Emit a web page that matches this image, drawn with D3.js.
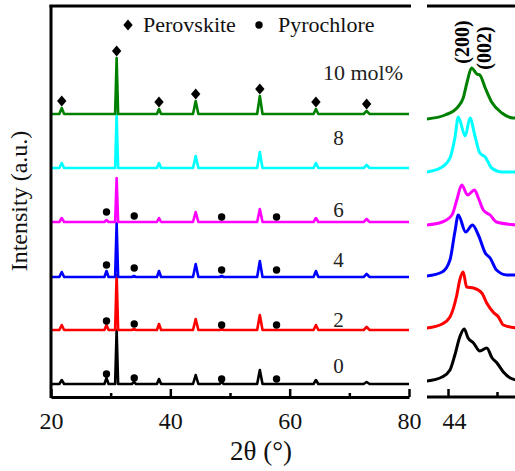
<!DOCTYPE html>
<html><head><meta charset="utf-8">
<script src="https://cdn.jsdelivr.net/npm/d3@7"></script>
<style>body{margin:0;background:#fff}svg text{font-family:"Liberation Serif","Times New Roman","DejaVu Serif",serif}</style>
</head><body><svg id="c" width="515" height="471"></svg>
<script>
// ---------- data ----------
const categories = ["0", "2", "4", "6", "8", "10 mol%"];
const seriesColors = ["#000000", "#ff0000", "#0000ff", "#ff00ff", "#00ffff", "#008000"];
const leftOffsets = [13, 67, 120, 175, 229, 283];
const rightOffsets = [16, 69, 121, 172, 225, 278];

const peakPos = [21.8, 29.3, 31.0, 33.9, 38.1, 44.25, 48.6, 55.0, 64.4, 72.9];
const peakHalfWidth = [0.4, 0.35, 0.25, 0.35, 0.35, 0.45, 0.35, 0.45, 0.4, 0.5];
const heights0 = [4, 6, 54, 2, 5, 9, 2, 14, 4, 2];
const heights2 = [5, 5, 55, 1, 6, 11, 1, 15, 5, 3];
const heights4 = [5, 6, 54, 1, 6, 13, 1, 16, 6, 3];
const heights6 = [4, 2, 44, 0, 4, 10, 0, 13, 4, 3];
const heights8 = [5, 0, 54, 0, 5, 12, 0, 16, 5, 3];
const heights10 = [6, 0, 56, 0, 5, 13, 0, 18, 5, 3];

const perovskitePos = [21.8, 31.0, 38.1, 44.25, 55.0, 64.4, 72.9];
const pyrochlorePos = [29.3, 33.95, 48.6, 57.8];
const pyro0 = [10, 6, 5, 5];
const pyro2 = [9, 6, 5, 5];
const pyro4 = [12, 9, 7, 7];
const pyro6 = [10, 6, 5, 5];

const zoom0 = [[43.57,0],[43.88,4],[44.04,11],[44.14,26],[44.24,44],[44.33,52],[44.41,43],[44.52,38],[44.65,30],[44.79,33],[44.90,23],[45.00,18],[45.13,9],[45.27,3],[45.40,1]];
const zoom2 = [[43.57,0],[43.88,4],[44.04,11],[44.18,33],[44.24,48],[44.31,56],[44.38,41],[44.52,40],[44.69,35],[44.79,25],[44.92,16],[45.03,11],[45.13,3],[45.40,0]];
const zoom4 = [[43.57,0],[43.88,4],[44.04,16],[44.14,44],[44.21,61],[44.36,44],[44.50,51],[44.62,41],[44.76,23],[44.86,18],[44.99,6],[45.20,1],[45.40,1]];
const zoom6 = [[43.57,0],[43.88,3],[44.08,10],[44.18,25],[44.28,40],[44.40,30],[44.54,35],[44.62,27],[44.72,15],[44.86,10],[44.99,3],[45.40,0]];
const zoom8 = [[43.57,0],[43.88,5],[44.04,14],[44.14,34],[44.21,55],[44.35,36],[44.45,54],[44.55,36],[44.65,19],[44.76,15],[44.89,4],[45.10,0],[45.40,0]];
const zoom10 = [[43.57,0],[43.94,4],[44.20,12],[44.31,21],[44.39,37],[44.48,51],[44.59,45],[44.65,44],[44.76,31],[44.89,17],[45.10,6],[45.33,1],[45.40,1]];

const xTicksMajor = [20, 40, 60, 80];
const xTicksMinor = [30, 50, 70];
const xrTicksMajor = [44];
const xrTicksMinor = [45];

// ---------- drawing ----------
const FONT = '"Liberation Serif", "Times New Roman", "DejaVu Serif", serif';
const svg = d3.select("#c");
const heights = [heights0, heights2, heights4, heights6, heights8, heights10];
const pyro = [pyro0, pyro2, pyro4, pyro6];
const zooms = [zoom0, zoom2, zoom4, zoom6, zoom8, zoom10];

const x = d3.scaleLinear().domain([20, 80]).range([51, 409]);
const xr = d3.scaleLinear().domain([44, 45]).range([448, 497]);
const y = d3.scaleLinear().domain([0, 391]).range([397, 6]);

const line = d3.line().x(d => d[0]).y(d => d[1]);

// left traces
heights.forEach((h, i) => {
  const off = leftOffsets[i];
  const pts = [[20, 0]];
  peakPos.forEach((p, k) => {
    if (h[k] > 0) {
      pts.push([p - peakHalfWidth[k], 0], [p, h[k]], [p + peakHalfWidth[k], 0]);
    }
  });
  pts.push([80, 0]);
  svg.append("path")
    .attr("d", line(pts.map(d => [x(d[0]), y(d[1] + off)])))
    .attr("fill", "none").attr("stroke", seriesColors[i])
    .attr("stroke-width", 2.6).attr("stroke-linejoin", "round");
});

// right traces
svg.append("clipPath").attr("id", "rc").append("rect").attr("x", 427).attr("y", 0).attr("width", 200).attr("height", 471);
zooms.forEach((z, i) => {
  svg.append("path")
    .attr("clip-path", "url(#rc)")
    .attr("d", d3.line().curve(d3.curveMonotoneX).x(d => xr(d[0])).y(d => y(d[1] + rightOffsets[i]))(z))
    .attr("fill", "none").attr("stroke", seriesColors[i])
    .attr("stroke-width", 3).attr("stroke-linejoin", "round");
});

// markers
const diamond = (cx, cy) => `M${cx},${cy - 5.5}L${cx + 4.7},${cy}L${cx},${cy + 5.5}L${cx - 4.7},${cy}Z`;
perovskitePos.forEach(p => {
  const k = peakPos.indexOf(p);
  svg.append("path").attr("d", diamond(x(p), y(heights10[k] + leftOffsets[5]) - 7)).attr("fill", "#000");
});
pyro.forEach((hs, i) => {
  pyrochlorePos.forEach((p, k) => {
    svg.append("circle").attr("cx", x(p)).attr("cy", y(hs[k] + leftOffsets[i])).attr("r", 3.7).attr("fill", "#000");
  });
});

// series labels
const labelDy = [11, 3, 10, 5, 23, 34];
categories.forEach((c, i) => {
  const last = i === categories.length - 1;
  svg.append("text")
    .attr("x", last ? 323 : x(68.2))
    .attr("y", y(leftOffsets[i]) - labelDy[i])
    .attr("text-anchor", last ? "start" : "middle")
    .attr("font-family", FONT)
    .attr("font-size", last ? 22 : 21)
    .attr("fill", "#222").text(c);
});

// legend
svg.append("path").attr("d", diamond(128, 25)).attr("fill", "#000");
svg.append("text").attr("x", 143).attr("y", 32).attr("font-family", FONT).attr("font-size", 22).attr("fill", "#111").text("Perovskite");
svg.append("circle").attr("cx", 259).attr("cy", 25).attr("r", 3.7).attr("fill", "#000");
svg.append("text").attr("x", 278).attr("y", 32).attr("font-family", FONT).attr("font-size", 22).attr("fill", "#111").text("Pyrochlore");

// peak index labels
[["(200)", 44.3, 42], ["(002)", 44.75, 48]].forEach(([t, p, cy]) => {
  svg.append("text")
    .attr("transform", `translate(${xr(p) + 6},${cy}) rotate(-90)`)
    .attr("text-anchor", "middle").attr("font-family", FONT).attr("font-size", 20).attr("font-weight", "bold")
    .attr("fill", "#000").text(t);
});

// frames
const frame = svg.append("g").attr("stroke", "#000").attr("stroke-width", 3).attr("fill", "none");
frame.append("line").attr("x1", x(20)).attr("x2", x(20)).attr("y1", 5).attr("y2", 398);
frame.append("line").attr("x1", x(20) - 1.5).attr("x2", 411).attr("y1", 6).attr("y2", 6);
frame.append("line").attr("x1", 427).attr("x2", 520).attr("y1", 6).attr("y2", 6);

// axes
function styleAxis(g) {
  g.attr("font-family", FONT);
  g.selectAll("path.domain").attr("stroke", "#000").attr("stroke-width", 3);
  g.selectAll("line").attr("stroke", "#000").attr("stroke-width", 2.5);
  g.selectAll("text").attr("font-size", 24).attr("fill", "#111").attr("font-family", FONT);
}
const axL = svg.append("g").attr("transform", "translate(0,397)")
  .call(d3.axisBottom(x).tickValues(xTicksMajor).tickSizeInner(-8).tickSizeOuter(0).tickPadding(15).tickFormat(d3.format("d")));
styleAxis(axL);
const axLm = svg.append("g").attr("transform", "translate(0,397)")
  .call(d3.axisBottom(x).tickValues(xTicksMinor).tickSizeInner(-4).tickSizeOuter(0).tickFormat(""));
styleAxis(axLm); axLm.select("path.domain").remove();

const axR = svg.append("g").attr("transform", "translate(0,397)")
  .call(d3.axisBottom(xr).tickValues(xrTicksMajor).tickSizeInner(-8).tickSizeOuter(0).tickPadding(15).tickFormat(d3.format("d")));
styleAxis(axR);
axR.select("path.domain").remove();
axR.selectAll("text").attr("dx", 6);
svg.append("line").attr("x1", 427).attr("x2", 520).attr("y1", 397).attr("y2", 397).attr("stroke", "#000").attr("stroke-width", 3);
const axRm = svg.append("g").attr("transform", "translate(0,397)")
  .call(d3.axisBottom(xr).tickValues(xrTicksMinor).tickSizeInner(-5).tickSizeOuter(0).tickFormat(""));
styleAxis(axRm); axRm.select("path.domain").remove();

// axis titles
svg.append("text").attr("x", 261).attr("y", 460).attr("text-anchor", "middle").attr("font-family", FONT).attr("font-size", 27).attr("fill", "#111").text("2θ (°)");
svg.append("text").attr("transform", "translate(27,201) rotate(-90)").attr("text-anchor", "middle").attr("font-family", FONT).attr("font-size", 24).attr("fill", "#111").text("Intensity (a.u.)");
</script></body></html>
